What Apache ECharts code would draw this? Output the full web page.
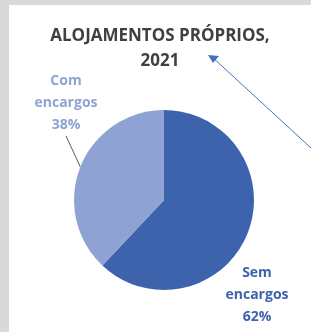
<!DOCTYPE html>
<html>
<head>
<meta charset="utf-8">
<script src="https://cdn.jsdelivr.net/npm/echarts@6/dist/echarts.min.js"></script>
<style>
  html, body { margin: 0; padding: 0; background: #d9d9d9; }
  #main { position: absolute; left: 9px; top: 5px; width: 302px; height: 327px; background: #fff; }
</style>
</head>
<body>
<div id="main"></div>
<script>
var titleText = 'ALOJAMENTOS PRÓPRIOS,\n2021';
var categories = ['Sem\nencargos', 'Com\nencargos'];
var shares = [62, 38];
var sliceColors = ['#3d63ad', '#8ea3d3'];

var myChart = echarts.init(document.getElementById('main'));

var pieData = categories.map(function (name, i) {
  return {
    name: name,
    value: shares[i],
    itemStyle: { color: sliceColors[i] },
    label: { color: sliceColors[i] },
    labelLine: { show: i === 1 }
  };
});

// posições das etiquetas (relativas ao painel)
var labelPos = [[248, 290], [57, 98]];

myChart.setOption({
  animation: false,
  title: {
    text: titleText,
    left: 'center',
    top: 14,
    textStyle: {
      fontFamily: 'Open Sans',
      fontSize: 17,
      fontWeight: 'bold',
      color: '#404040',
      lineHeight: 25
    }
  },
  series: [{
    type: 'pie',
    center: [155, 195],
    radius: [0, 90],
    startAngle: 90,
    clockwise: true,
    data: pieData,
    label: {
      show: true,
      position: 'outside',
      formatter: function (p) {
        return p.name + '\n' + p.value + '%';
      },
      fontFamily: 'Open Sans',
      fontSize: 14,
      fontWeight: 'bold',
      lineHeight: 22,
      overflow: 'none',
      width: 100,
      align: 'center'
    },
    labelLine: {
      length: 8,
      length2: 0,
      lineStyle: { color: '#595959', width: 1 }
    },
    labelLayout: function (params) {
      var p = labelPos[params.dataIndex];
      return { x: p[0], y: p[1], align: 'center', verticalAlign: 'middle' };
    }
  }],
  graphic: [{
    type: 'line',
    shape: { x1: 302, y1: 143, x2: 202, y2: 51 },
    style: { stroke: '#4472c4', lineWidth: 1 }
  }, {
    type: 'polygon',
    shape: { points: [[199, 50], [210, 51], [204, 58]] },
    style: { fill: '#4472c4' }
  }]
});
</script>
</body>
</html>
